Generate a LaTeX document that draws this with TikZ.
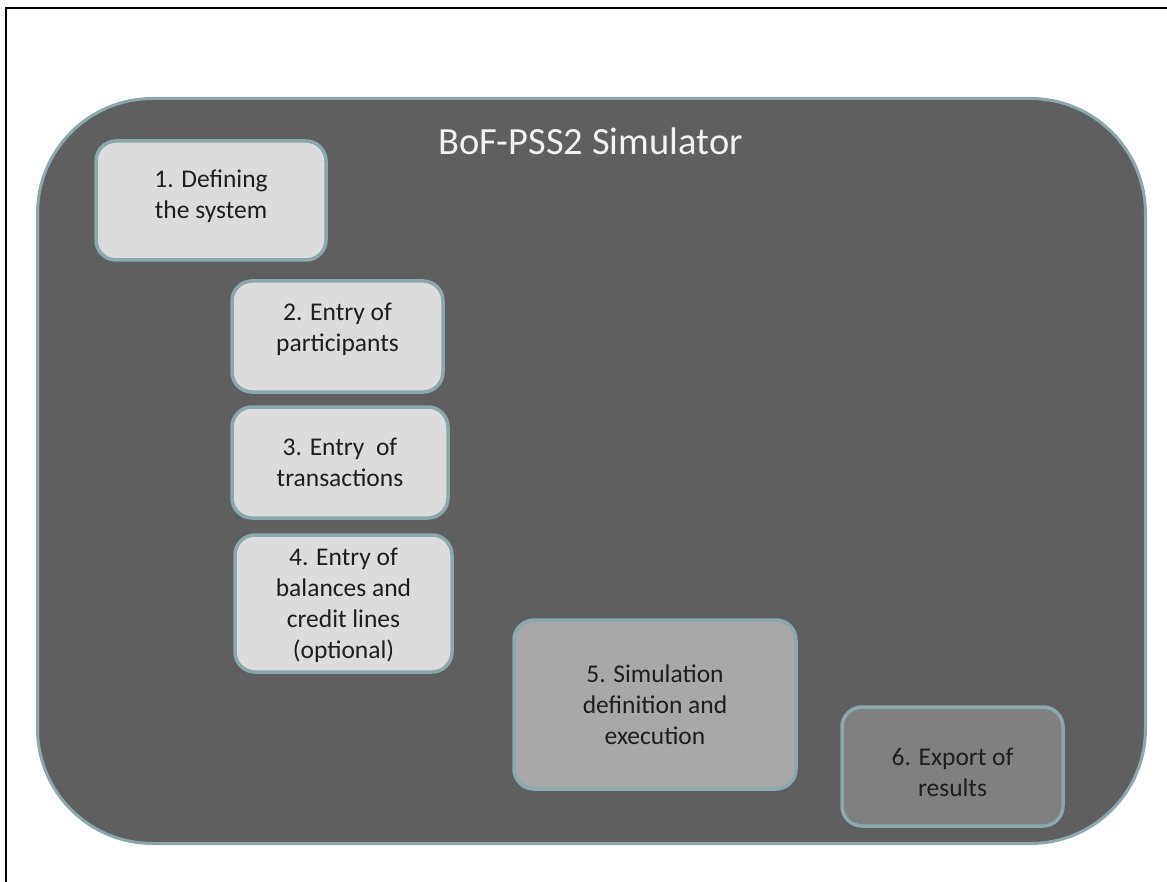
\documentclass[tikz,border=0pt]{standalone}
\usepackage{fontspec}
\setmainfont{Carlito}
\definecolor{bigfill}{RGB}{95,95,95}
\definecolor{bordercol}{RGB}{140,168,172}
\definecolor{lightfill}{RGB}{220,220,220}
\definecolor{midfill}{RGB}{168,168,168}
\definecolor{darkfill}{RGB}{128,128,128}
\definecolor{textcol}{RGB}{30,30,30}
\definecolor{titlecol}{RGB}{242,242,242}
\tikzset{
  stepbox/.style={draw=bordercol, line width=3.5pt, rounded corners=20pt,
    rectangle, inner sep=0pt},
  steptext/.style={inner sep=0pt, align=center, text=textcol,
    font=\fontsize{25.5}{31}\selectfont},
  simbox/.style={draw=bordercol, line width=3pt, rounded corners=115pt,
    rectangle, fill=bigfill, inner sep=0pt},
}
\begin{document}
\begin{tikzpicture}[x=1pt, y=-1pt]
\useasboundingbox (0,0) rectangle (1167,882);
\fill[white] (0,0) rectangle (1167,882);
\coordinate (fbl) at (6,882);
\coordinate (ftl) at (6,8);
\coordinate (ftr) at (1167,8);
\draw[black, line width=2.5pt] (fbl) -- (ftl) -- (ftr);
\node[simbox, minimum width=1108pt, minimum height=745pt] (sim) at (591.5,471) {};
\node[anchor=base, text=titlecol, font=\fontsize{38.5}{42}\selectfont] (title) at (590.5,155) {BoF-PSS2 Simulator};
\node[stepbox, fill=lightfill, minimum width=230pt, minimum height=119pt] (s1) at (211,200.5) {};
\node[stepbox, fill=lightfill, minimum width=211pt, minimum height=111pt] (s2) at (337.5,336.5) {};
\node[stepbox, fill=lightfill, minimum width=216pt, minimum height=111pt] (s3) at (340,462.5) {};
\node[stepbox, fill=lightfill, minimum width=217pt, minimum height=137pt] (s4) at (343.5,603.5) {};
\node[stepbox, fill=midfill, minimum width=282pt, minimum height=169pt] (s5) at (655,704.5) {};
\node[stepbox, fill=darkfill, minimum width=221pt, minimum height=119pt] (s6) at (952.5,766.5) {};
\node[steptext] (s1t) at ([yshift=4.5pt]s1.center) {1. Defining\\the system};
\node[steptext] (s2t) at ([yshift=7.5pt]s2.center) {2. Entry of\\participants};
\node[steptext] (s3t) at (s3.center) {3. Entry\ \ of\\transactions};
\node[steptext] (s4t) at ([yshift=-1.5pt]s4.center) {4. Entry of\\balances and\\credit lines\\(optional)};
\node[steptext] (s5t) at (s5.center) {5. Simulation\\definition and\\execution};
\node[steptext] (s6t) at ([yshift=-6pt]s6.center) {6. Export of\\results};
\end{tikzpicture}
\end{document}
